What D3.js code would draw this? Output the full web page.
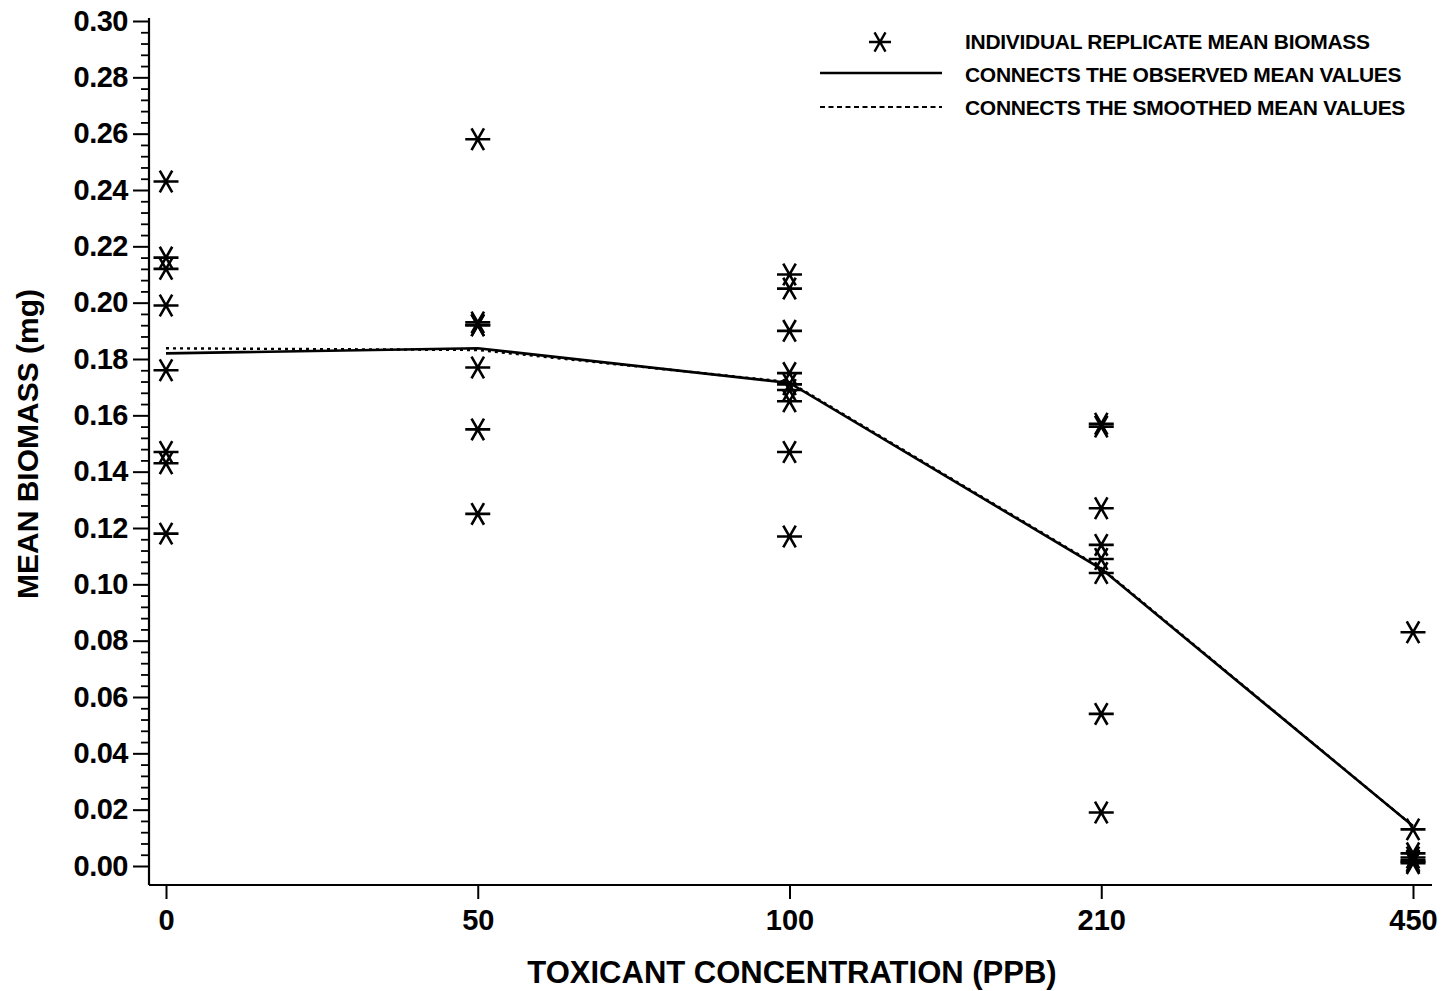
<!DOCTYPE html>
<html><head><meta charset="utf-8">
<script src="https://cdn.jsdelivr.net/npm/d3@7"></script>
<style>
html,body{margin:0;padding:0;background:#fff;}
svg{display:block;}
text{font-family:"Liberation Sans",Arial,Helvetica,sans-serif;font-weight:bold;fill:#000;}
</style></head>
<body>
<svg id="chart" width="1444" height="991"></svg>
<script>
// ---- data ----
const concentrations = ["0", "50", "100", "210", "450"];
const rep0   = [0.243, 0.216, 0.212, 0.199, 0.176, 0.147, 0.143, 0.118];
const rep50  = [0.258, 0.193, 0.192, 0.192, 0.177, 0.155, 0.125];
const rep100 = [0.210, 0.205, 0.190, 0.175, 0.171, 0.169, 0.165, 0.147, 0.117];
const rep210 = [0.157, 0.156, 0.127, 0.114, 0.109, 0.104, 0.054, 0.019];
const rep450 = [0.083, 0.013, 0.0045, 0.003, 0.002, 0.0015, 0.001];
const observedMeans = [0.182, 0.1838, 0.1715, 0.1055, 0.0142];
const smoothedMeans = [0.1838, 0.1832, 0.1718, 0.1058, 0.0142];
const yMajorTicks = [0, 0.02, 0.04, 0.06, 0.08, 0.10, 0.12, 0.14, 0.16, 0.18, 0.20, 0.22, 0.24, 0.26, 0.28, 0.30];
const legendLabels = ["INDIVIDUAL REPLICATE MEAN BIOMASS", "CONNECTS THE OBSERVED MEAN VALUES", "CONNECTS THE SMOOTHED MEAN VALUES"];
const xTitle = "TOXICANT CONCENTRATION (PPB)";
const yTitle = "MEAN BIOMASS (mg)";

const replicates = [rep0, rep50, rep100, rep210, rep450];
const points = [];
replicates.forEach((arr, i) => arr.forEach(v => points.push({c: concentrations[i], v})));

const svg = d3.select("#chart");
const x = d3.scalePoint().domain(concentrations).range([166, 1413]);
const y = d3.scaleLinear().domain([0, 0.30]).range([866, 21]);

const axisX0 = 149, axisY0 = 885;

// y axis line
svg.append("line").attr("x1", axisX0).attr("x2", axisX0).attr("y1", 18).attr("y2", axisY0)
  .attr("stroke", "#000").attr("stroke-width", 2.2);
// x axis line
svg.append("line").attr("x1", axisX0).attr("x2", 1432).attr("y1", axisY0).attr("y2", axisY0)
  .attr("stroke", "#000").attr("stroke-width", 2.2);

// minor y ticks
const minorTicks = d3.range(0, 0.3001, 0.004).map(d => +d.toFixed(3)).filter(d => !yMajorTicks.some(m => Math.abs(m - d) < 1e-6));
const gMinor = svg.append("g").attr("transform", `translate(${axisX0},0)`)
  .call(d3.axisLeft(y).tickValues(minorTicks).tickSize(8).tickFormat(""));
gMinor.select(".domain").remove();
gMinor.selectAll("line").attr("stroke", "#000").attr("stroke-width", 1.8);

// major y ticks
const gY = svg.append("g").attr("transform", `translate(${axisX0},0)`)
  .call(d3.axisLeft(y).tickValues(yMajorTicks).tickSize(16).tickPadding(5).tickFormat(d3.format(".2f")));
gY.select(".domain").remove();
gY.selectAll("line").attr("stroke", "#000").attr("stroke-width", 2);
gY.selectAll("text").style("font-size", "29px").style("font-family", "Liberation Sans, Arial, sans-serif").style("font-weight", "bold").style("letter-spacing", "-0.5px").attr("fill", "#000");

// x ticks
const gX = svg.append("g").attr("transform", `translate(0,${axisY0})`)
  .call(d3.axisBottom(x).tickSize(14).tickPadding(10));
gX.select(".domain").remove();
gX.selectAll("line").attr("stroke", "#000").attr("stroke-width", 2);
gX.selectAll("text").style("font-size", "29px").style("font-family", "Liberation Sans, Arial, sans-serif").style("font-weight", "bold").attr("fill", "#000");

// axis titles
svg.append("text").attr("x", 792).attr("y", 983).attr("text-anchor", "middle")
  .style("font-size", "31px").text(xTitle);
svg.append("text").attr("transform", "translate(38,444) rotate(-90)").attr("text-anchor", "middle")
  .style("font-size", "30px").text(yTitle);

// star marker path
function starPath(r) {
  const a = Math.PI / 3;
  const dx = r * Math.cos(a), dy = r * Math.sin(a);
  return `M${-r},0L${r},0M${-dx},${-dy}L${dx},${dy}M${-dx},${dy}L${dx},${-dy}`;
}

// lines
const line = d3.line().x((d, i) => x(concentrations[i])).y(d => y(d));
svg.append("path").datum(smoothedMeans).attr("d", line).attr("fill", "none")
  .attr("stroke", "#000").attr("stroke-width", 2.4).attr("stroke-dasharray", "3,4");
svg.append("path").datum(observedMeans).attr("d", line).attr("fill", "none")
  .attr("stroke", "#000").attr("stroke-width", 2.6);

// stars
svg.append("g").selectAll("path").data(points).join("path")
  .attr("transform", d => `translate(${x(d.c)},${y(d.v)})`)
  .attr("d", starPath(12.5)).attr("fill", "none").attr("stroke", "#000").attr("stroke-width", 2.6);

// legend
const lg = svg.append("g");
lg.append("path").attr("transform", "translate(880,42)").attr("d", starPath(11))
  .attr("fill", "none").attr("stroke", "#000").attr("stroke-width", 2.4);
lg.append("line").attr("x1", 820).attr("x2", 942).attr("y1", 73).attr("y2", 73)
  .attr("stroke", "#000").attr("stroke-width", 2.6);
lg.append("line").attr("x1", 820).attr("x2", 942).attr("y1", 107).attr("y2", 107)
  .attr("stroke", "#000").attr("stroke-width", 2.2).attr("stroke-dasharray", "5,3.5");
lg.selectAll("text.lab").data(legendLabels).join("text").attr("class", "lab")
  .attr("x", 965).attr("y", (d, i) => 49 + i * 33)
  .style("font-size", "21px").style("letter-spacing", "-0.3px").text(d => d);
</script>
</body></html>
